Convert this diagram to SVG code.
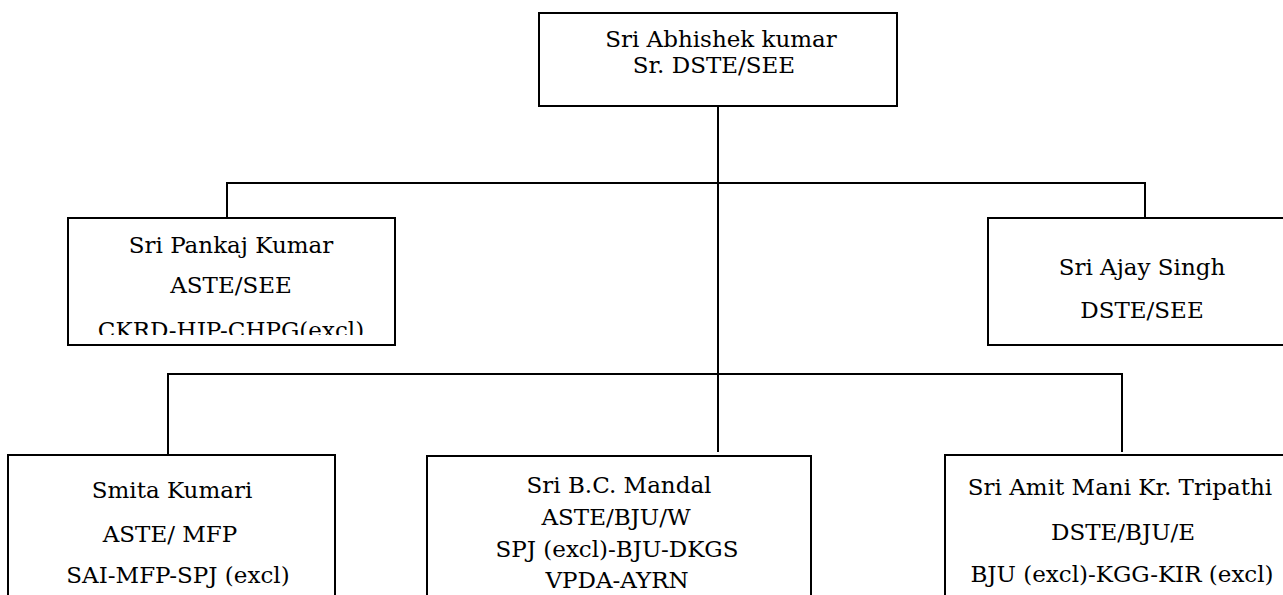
<svg xmlns="http://www.w3.org/2000/svg" width="1283" height="595" viewBox="0 0 1283 595">
<style>
.box{fill:#fff;stroke:#000;stroke-width:2}
.ln{stroke:#000;stroke-width:2;fill:none}
text{font-family:"DejaVu Serif","Liberation Serif",serif;font-size:23px;fill:#000;text-anchor:middle}
</style>
<defs>
<clipPath id="clipL"><rect x="68" y="218" width="327" height="117"/></clipPath>
</defs>
<rect width="1283" height="595" fill="#fff"/>
<g id="connectors">
<path class="ln" d="M718,106 V452"/>
<path class="ln" d="M227,218 V183 H1145 V218"/>
<path class="ln" d="M168,455 V374 H1122 V452"/>
</g>
<g id="n-top">
<rect class="box" x="539" y="13" width="358" height="93"/>
<text x="721" y="47">Sri Abhishek kumar</text>
<text x="714" y="73">Sr. DSTE/SEE</text>
</g>
<g id="n-pankaj">
<rect class="box" x="68" y="218" width="327" height="127"/>
<g clip-path="url(#clipL)">
<text x="231" y="253">Sri Pankaj Kumar</text>
<text x="231" y="293">ASTE/SEE</text>
<text x="231" y="338">CKRD-HJP-CHPG(excl)</text>
</g>
</g>
<g id="n-ajay">
<rect class="box" x="988" y="218" width="310" height="127"/>
<text x="1142" y="275">Sri Ajay Singh</text>
<text x="1142" y="318">DSTE/SEE</text>
</g>
<g id="n-smita">
<rect class="box" x="8" y="455" width="327" height="150"/>
<text x="172" y="498">Smita Kumari</text>
<text x="170" y="542">ASTE/ MFP</text>
<text x="178" y="583">SAI-MFP-SPJ (excl)</text>
</g>
<g id="n-mandal">
<rect class="box" x="427" y="456" width="384" height="150"/>
<text x="619" y="493">Sri B.C. Mandal</text>
<text x="616" y="525">ASTE/BJU/W</text>
<text x="617" y="557">SPJ (excl)-BJU-DKGS</text>
<text x="617" y="588">VPDA-AYRN</text>
</g>
<g id="n-tripathi">
<rect class="box" x="945" y="455" width="354" height="150"/>
<text x="1120" y="495">Sri Amit Mani Kr. Tripathi</text>
<text x="1123" y="540">DSTE/BJU/E</text>
<text x="1122" y="582">BJU (excl)-KGG-KIR (excl)</text>
</g>
</svg>
